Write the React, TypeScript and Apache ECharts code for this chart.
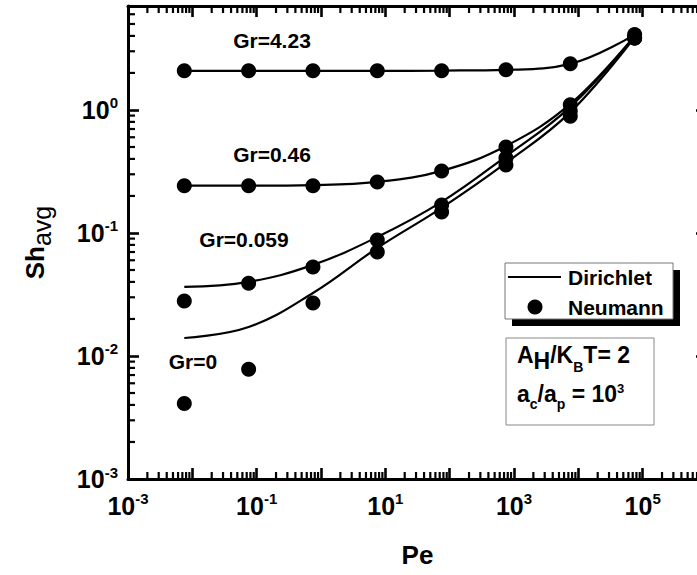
import React, { useEffect, useRef } from 'react';
import * as echarts from 'echarts';

// Péclet numbers (x)
const peValues = [0.0075, 0.075, 0.75, 7.5, 75, 750, 7500, 75000];

// Dirichlet (solid curves)
const dirichletGr423 = [2.08, 2.08, 2.08, 2.08, 2.09, 2.12, 2.37, 4.1];
const dirichletGr046 = [0.2425, 0.2425, 0.245, 0.26, 0.32, 0.51, 1.12, 4.0];
const dirichletGr0059 = [0.0364, 0.04, 0.055, 0.0927, 0.179, 0.42, 1.06, 3.95];
const dirichletGr0 = [0.014, 0.0172, 0.0325, 0.0755, 0.16, 0.371, 0.96, 3.9];

// Neumann (filled circles)
const neumannGr423 = [2.08, 2.08, 2.08, 2.08, 2.08, 2.12, 2.37, 4.1];
const neumannGr046 = [0.2425, 0.2425, 0.2425, 0.26, 0.319, 0.5, 1.1, 3.85];
const neumannGr0059 = [0.028, 0.039, 0.053, 0.0877, 0.169, 0.407, 0.98, 3.85];
const neumannGr0 = [0.0041, 0.0078, 0.027, 0.07, 0.148, 0.357, 0.89, 3.85];

const grLabels = ['Gr=4.23', 'Gr=0.46', 'Gr=0.059', 'Gr=0'];
const legendNames = ['Dirichlet', 'Neumann'];

// axis range
const X_MIN = 1e-3;
const X_MAX = 1e6;
const Y_MIN = 1e-3;
const Y_MAX = 7;
const minorSteps = [2, 3, 4, 5, 6, 7, 8, 9];
const xDecades = [-3, -2, -1, 0, 1, 2, 3, 4, 5];
const yDecades = [-3, -2, -1, 0];

const FONT = "'Liberation Sans', Arial, sans-serif";

const expLabel = (v: number, onlyOdd: boolean) => {
  const e = Math.log10(v);
  const r = Math.round(e);
  if (Math.abs(e - r) > 1e-6) return '';
  if (onlyOdd && Math.abs(r % 2) !== 1) return '';
  return `{b|10}{s|${r}}`;
};

const tickRich = {
  b: { fontSize: 25, fontWeight: 'bold', color: '#000', fontFamily: FONT, verticalAlign: 'middle' },
  s: { fontSize: 15, fontWeight: 'bold', color: '#000', fontFamily: FONT, verticalAlign: 'middle', padding: [0, 0, 14, 0] },
};

const MINOR_LEN = 7;

export default function App() {
  const ref = useRef<HTMLDivElement>(null);
  useEffect(() => {
    if (!ref.current) return;
    const chart = echarts.init(ref.current, undefined, { renderer: 'svg' });

    const xMinor = xDecades.flatMap((e) => minorSteps.map((k) => k * Math.pow(10, e)));
    const yMinor = yDecades
      .flatMap((e) => minorSteps.map((k) => k * Math.pow(10, e)))
      .filter((v) => v < Y_MAX);

    const dirSets = [dirichletGr423, dirichletGr046, dirichletGr0059, dirichletGr0];
    const neuSets = [neumannGr423, neumannGr046, neumannGr0059, neumannGr0];

    const lineSeries = dirSets.map((arr) => ({
      type: 'line',
      name: 'Dirichlet',
      data: peValues.map((x, i) => [x, arr[i]]),
      symbol: 'none',
      smooth: 0.4,
      lineStyle: { color: '#000', width: 2.2 },
      itemStyle: { color: '#000' },
      z: 3,
    }));
    const scatterSeries = neuSets.map((arr) => ({
      type: 'scatter',
      name: 'Neumann',
      data: peValues.map((x, i) => [x, arr[i]]),
      symbol: 'circle',
      symbolSize: 15,
      itemStyle: { color: '#000', opacity: 1 },
      z: 4,
    }));

    // minor log ticks (2..9 per decade): position along the axis from the axis scale,
    // frame edges from the grid rectangle
    const st = { stroke: '#000', lineWidth: 2.2 };
    const minorX = {
      type: 'custom',
      name: 'minorX',
      data: xMinor.map((v) => [v, 1]),
      renderItem: (params: any, api: any) => {
        const c = api.coord([api.value(0), 1]);
        const cs = params.coordSys;
        const yb = cs.y + cs.height;
        const yt = cs.y;
        return {
          type: 'group',
          children: [
            { type: 'line', shape: { x1: c[0], y1: yb, x2: c[0], y2: yb - MINOR_LEN }, style: st },
            { type: 'line', shape: { x1: c[0], y1: yt, x2: c[0], y2: yt + MINOR_LEN }, style: st },
          ],
        };
      },
    };
    const minorY = {
      type: 'custom',
      name: 'minorY',
      data: yMinor.map((v) => [1, v]),
      renderItem: (params: any, api: any) => {
        const c = api.coord([1, api.value(1)]);
        const cs = params.coordSys;
        const xl = cs.x;
        const xr = cs.x + cs.width;
        return {
          type: 'group',
          children: [
            { type: 'line', shape: { x1: xl, y1: c[1], x2: xl + MINOR_LEN, y2: c[1] }, style: st },
            { type: 'line', shape: { x1: xr, y1: c[1], x2: xr - MINOR_LEN, y2: c[1] }, style: st },
          ],
        };
      },
    };

    const tickLine = { color: '#000', width: 2.6 };
    const axisLine = { show: true, lineStyle: { color: '#000', width: 3 } };

    const graphic: any[] = [
      // legend (shadowed box)
      { type: 'rect', shape: { x: 512, y: 270, width: 168, height: 56 }, style: { fill: '#000' }, z: 10 },
      { type: 'rect', shape: { x: 505, y: 263, width: 168, height: 56 }, style: { fill: '#fff', stroke: '#777', lineWidth: 1 }, z: 11 },
      { type: 'line', shape: { x1: 508, y1: 277, x2: 561, y2: 277 }, style: { stroke: '#000', lineWidth: 2.2 }, z: 12 },
      { type: 'circle', shape: { cx: 535, cy: 307, r: 7.5 }, style: { fill: '#000' }, z: 12 },
      ...legendNames.map((t, i) => ({
        type: 'text',
        x: 568,
        y: 277 + i * 30,
        style: { text: t, fontSize: 21, fontWeight: 'bold', fill: '#000', fontFamily: FONT, verticalAlign: 'middle' },
        z: 12,
      })),
      // parameter box
      {
        type: 'rect',
        shape: { x: 506, y: 338, width: 148, height: 87 },
        style: { fill: '#fff', stroke: '#888', lineWidth: 1 },
        z: 10,
      },
      {
        type: 'text',
        x: 517,
        y: 355,
        style: {
          text: '{n|A}{h|H}{n|/K}{s|B}{n|T= 2}',
          verticalAlign: 'middle',
          rich: {
            n: { fontSize: 23, fontWeight: 'bold', fill: '#000', fontFamily: FONT, verticalAlign: 'middle' },
            h: { fontSize: 23, fontWeight: 'bold', fill: '#000', fontFamily: FONT, verticalAlign: 'middle', padding: [12, 0, 0, 0] },
            s: { fontSize: 14, fontWeight: 'bold', fill: '#000', fontFamily: FONT, verticalAlign: 'middle', padding: [24, 0, 0, 0] },
          },
        },
        z: 12,
      },
      {
        type: 'text',
        x: 517,
        y: 394,
        style: {
          text: '{n|a}{s|c}{n|/a}{s|p}{n| = 10}{u|3}',
          verticalAlign: 'middle',
          rich: {
            n: { fontSize: 23, fontWeight: 'bold', fill: '#000', fontFamily: FONT, verticalAlign: 'middle' },
            s: { fontSize: 14, fontWeight: 'bold', fill: '#000', fontFamily: FONT, verticalAlign: 'middle', padding: [20, 0, 0, 0] },
            u: { fontSize: 13, fontWeight: 'bold', fill: '#000', fontFamily: FONT, verticalAlign: 'middle', padding: [0, 0, 12, 0] },
          },
        },
        z: 12,
      },
      ...[
        [272, 40],
        [272, 154],
        [244, 239],
        [193, 361],
      ].map((p, i) => ({
        type: 'text',
        x: p[0],
        y: p[1],
        style: {
          text: grLabels[i],
          fontSize: 21,
          fontWeight: 'bold',
          fill: '#000',
          fontFamily: FONT,
          align: 'center',
          verticalAlign: 'middle',
        },
        z: 12,
      })),
    ];

    const option: any = {
      animation: false,
      textStyle: { fontFamily: FONT },
      grid: { left: 128, top: 6, right: -10, bottom: 96, containLabel: false, outerBoundsMode: 'none' },
      xAxis: [
        {
          type: 'log',
          min: X_MIN,
          max: X_MAX,
          interval: 1,
          position: 'bottom',
          name: 'Pe',
          nameLocation: 'middle',
          nameGap: 63,
          nameTextStyle: { fontSize: 26, fontWeight: 'bold', color: '#000', fontFamily: FONT },
          axisLine,
          axisTick: { inside: true, length: 11, lineStyle: tickLine },
          splitLine: { show: false },
          axisLabel: {
            margin: 12,
            formatter: (v: number) => expLabel(v, true),
            rich: tickRich,
          },
        },
        {
          type: 'log',
          min: X_MIN,
          max: X_MAX,
          interval: 1,
          position: 'top',
          axisLine,
          axisTick: { inside: true, length: 11, lineStyle: tickLine },
          splitLine: { show: false },
          axisLabel: { show: false },
        },
      ],
      yAxis: [
        {
          type: 'log',
          min: Y_MIN,
          max: Y_MAX,
          interval: 1,
          position: 'left',
          name: '{a|Sh}{b|avg}',
          nameLocation: 'middle',
          nameGap: 74,
          nameTextStyle: {
            rich: {
              a: { fontSize: 26, fontWeight: 'bold', color: '#000', fontFamily: FONT, verticalAlign: 'middle' },
              b: { fontSize: 25, fontWeight: 'normal', color: '#000', fontFamily: FONT, verticalAlign: 'middle', padding: [13, 0, 0, 0] },
            },
          },
          axisLine,
          axisTick: { inside: true, length: 11, lineStyle: tickLine },
          splitLine: { show: false },
          axisLabel: {
            margin: 10,
            formatter: (v: number) => expLabel(v, false),
            rich: tickRich,
          },
        },
        {
          type: 'log',
          min: Y_MIN,
          max: Y_MAX,
          interval: 1,
          position: 'right',
          axisLine,
          axisTick: { inside: true, length: 11, lineStyle: tickLine },
          splitLine: { show: false },
          axisLabel: { show: false },
        },
      ],
      graphic,
      series: [...lineSeries, ...scatterSeries, minorX, minorY],
    };

    chart.setOption(option);
    return () => chart.dispose();
  }, []);

  return (
    <div
      ref={ref}
      style={{ position: 'absolute', left: 0, top: 0, width: 697, height: 575, background: '#fff' }}
    />
  );
}
